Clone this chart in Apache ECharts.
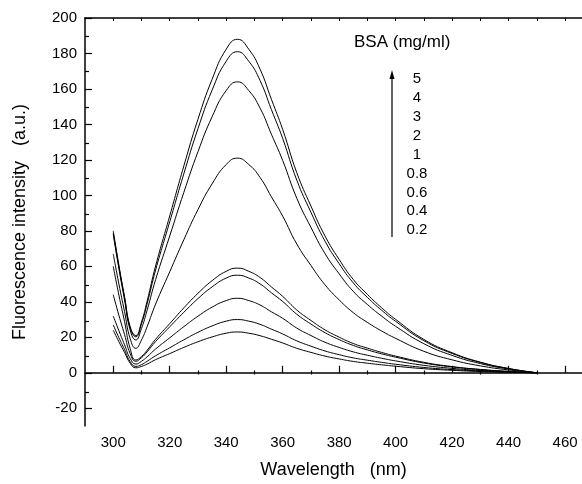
<!DOCTYPE html>
<html>
<head>
<meta charset="utf-8">
<script src="https://cdn.jsdelivr.net/npm/echarts@6/dist/echarts.min.js"></script>
<style>
  html, body { margin: 0; padding: 0; background: #fff; }
  #chart { width: 582px; height: 484px; }
</style>
</head>
<body>
<div id="chart"></div>
<script>
const wavelength = [300, 302, 304, 306, 308, 310, 312, 315, 320, 325, 330, 335, 340, 344, 348, 352, 356, 360, 365, 370, 375, 380, 385, 390, 395, 400, 410, 420, 430, 440, 450]

// fluorescence intensity (a.u.) for each BSA concentration (mg/ml)
const bsa5 = [80, 60.7, 42.9, 26.0, 21.0, 28.6, 40.4, 60.2, 88.4, 116.6, 142.9, 165.4, 182.4, 188, 182.4, 171.1, 154.2, 137.2, 112.8, 94, 77.1, 63.9, 52.6, 44.2, 36.7, 30.1, 18.8, 11.3, 6.0, 2.4, 0]
const bsa4 = [79, 59.8, 42.3, 25.3, 20.3, 27.6, 38.9, 57.9, 85.1, 112.2, 137.6, 159.3, 175.6, 181, 175.6, 164.7, 148.4, 132.1, 108.6, 90.5, 74.2, 61.5, 50.7, 42.5, 35.3, 29.0, 18.1, 10.9, 5.8, 2.4, 0]
const bsa3 = [78, 58.7, 41.1, 24.0, 18.5, 25.0, 35.3, 52.5, 77.1, 101.7, 124.6, 144.3, 159.1, 164, 159.1, 149.2, 134.5, 119.7, 98.4, 82, 67.2, 55.8, 45.9, 38.5, 32.0, 26.2, 16.4, 9.8, 5.2, 2.1, 0]
const bsa2 = [67, 50.1, 34.5, 19.2, 13.8, 18.5, 26.0, 38.7, 56.9, 75.0, 92.0, 106.5, 117.4, 121, 117.4, 110.1, 99.2, 88.3, 72.6, 60.5, 49.6, 41.1, 33.9, 28.4, 23.6, 19.4, 12.1, 7.3, 3.9, 1.6, 0]
const bsa1 = [60, 43.8, 28.9, 13.6, 7.2, 9.2, 12.7, 18.9, 27.7, 36.6, 44.8, 51.9, 57.2, 59, 57.2, 53.7, 48.4, 43.1, 35.4, 29.5, 24.2, 20.1, 16.5, 13.9, 11.5, 9.4, 5.9, 3.5, 1.9, 0.8, 0]
const bsa08 = [44, 32.4, 21.6, 10.8, 6.5, 8.5, 11.8, 17.6, 25.9, 34.1, 41.8, 48.4, 53.4, 55, 53.4, 50.1, 45.1, 40.2, 33, 27.5, 22.6, 18.7, 15.4, 12.9, 10.7, 8.8, 5.5, 3.3, 1.8, 0.7, 0]
const bsa06 = [32, 23.7, 15.8, 8.1, 4.9, 6.5, 9.0, 13.4, 19.7, 26.0, 31.9, 37.0, 40.7, 42, 40.7, 38.2, 34.4, 30.7, 25.2, 21, 17.2, 14.3, 11.8, 9.9, 8.2, 6.7, 4.2, 2.5, 1.3, 0.5, 0]
const bsa04 = [27, 19.8, 13.1, 6.3, 3.6, 4.6, 6.5, 9.6, 14.1, 18.6, 22.8, 26.4, 29.1, 30, 29.1, 27.3, 24.6, 21.9, 18, 15, 12.3, 10.2, 8.4, 7.1, 5.9, 4.8, 3.0, 1.8, 1.0, 0.4, 0]
const bsa02 = [24, 17.5, 11.5, 5.4, 2.8, 3.6, 4.9, 7.4, 10.8, 14.3, 17.5, 20.2, 22.3, 23, 22.3, 20.9, 18.9, 16.8, 13.8, 11.5, 9.4, 7.8, 6.4, 5.4, 4.5, 3.7, 2.3, 1.4, 0.7, 0.3, 0]

const concLabels = ['5', '4', '3', '2', '1', '0.8', '0.6', '0.4', '0.2']
const curves = [bsa5, bsa4, bsa3, bsa2, bsa1, bsa08, bsa06, bsa04, bsa02]

const xMajor = [300, 320, 340, 360, 380, 400, 420, 440, 460]
const xMinor = [310, 330, 350, 370, 390, 410, 430, 450]
const xTop = [300, 310, 320, 330, 340, 350, 360, 370, 380, 390, 400, 410, 420, 430, 440, 450, 460]
const yMajor = [-20, 0, 20, 40, 60, 80, 100, 120, 140, 160, 180, 200]
const yMinor = [-10, 10, 30, 50, 70, 90, 110, 130, 150, 170, 190]

const font = 'Liberation Sans, Arial, sans-serif'
const black = '#000'

const chart = echarts.init(document.getElementById('chart'))

const gridBox = { left: 85, right: 0, top: 18, bottom: 56 }

chart.setOption({
  animation: false,
  textStyle: { fontFamily: font },
  grid: [gridBox, gridBox],
  xAxis: [
    {
      type: 'value', gridIndex: 0, position: 'bottom',
      min: 290, max: 466, interval: 10,
      axisLine: { lineStyle: { color: black, width: 1.5 } },
      axisTick: { inside: true, length: 7, customValues: xMajor, lineStyle: { color: black, width: 1.2 } },
      axisLabel: { customValues: xMajor, color: black, fontSize: 15, margin: 9, fontFamily: font },
      splitLine: { show: false },
      name: 'Wavelength   (nm)',
      nameLocation: 'middle',
      nameGap: 35,
      nameTextStyle: { color: black, fontSize: 18, fontFamily: font },
    },
    {
      type: 'value', gridIndex: 0, position: 'top',
      min: 290, max: 466, interval: 10,
      axisLine: { lineStyle: { color: black, width: 1.5 } },
      axisTick: { inside: true, length: 3, customValues: xTop, lineStyle: { color: black } },
      axisLabel: { show: false },
      splitLine: { show: false },
    },
    {
      type: 'value', gridIndex: 1, position: 'bottom',
      min: 290, max: 466, interval: 10,
      axisLine: { show: false },
      axisTick: { inside: true, length: 4, customValues: xMinor, lineStyle: { color: black, width: 1.2 } },
      axisLabel: { show: false },
      splitLine: { show: false },
    },
  ],
  yAxis: [
    {
      type: 'value', gridIndex: 0, position: 'left',
      min: -30, max: 200, interval: 10,
      axisLine: { show: true, lineStyle: { color: black, width: 1.5 } },
      axisTick: { show: true, inside: true, length: 7, customValues: yMajor, lineStyle: { color: black, width: 1.2 } },
      axisLabel: { customValues: yMajor, color: black, fontSize: 15, margin: 8, fontFamily: font },
      splitLine: { show: false },
      name: 'Fluorescence intensity   (a.u.)',
      nameLocation: 'middle',
      nameGap: 56,
      nameTextStyle: { color: black, fontSize: 18, fontFamily: font },
    },
    {
      type: 'value', gridIndex: 1, position: 'left',
      min: -30, max: 200, interval: 10,
      axisLine: { show: false },
      axisTick: { show: true, inside: true, length: 4, customValues: yMinor, lineStyle: { color: black, width: 1.2 } },
      axisLabel: { show: false },
      splitLine: { show: false },
    },
  ],
  series: curves.map((vals, i) => ({
    name: concLabels[i],
    type: 'line',
    xAxisIndex: 0,
    yAxisIndex: 0,
    data: wavelength.map((w, j) => [w, vals[j]]),
    showSymbol: false,
    symbol: 'none',
    smooth: 0.5,
    lineStyle: { color: black, width: 1 },
    emphasis: { disabled: true },
  })),
  graphic: [
    {
      type: 'text', left: 354, top: 34,
      style: { text: 'BSA (mg/ml)', fill: black, font: '17px ' + font },
    },
    {
      type: 'line',
      shape: { x1: 392, y1: 237, x2: 392, y2: 76 },
      style: { stroke: black, lineWidth: 1.2 },
    },
    {
      type: 'polygon',
      shape: { points: [[392, 70], [389.5, 79], [394.5, 79]] },
      style: { fill: black },
    },
    ...concLabels.map((t, i) => ({
      type: 'text',
      x: 417,
      y: 79 + i * 18.9,
      style: { text: t, fill: black, font: '15px ' + font, align: 'center', verticalAlign: 'middle' },
    })),
  ],
})
</script>
</body>
</html>
